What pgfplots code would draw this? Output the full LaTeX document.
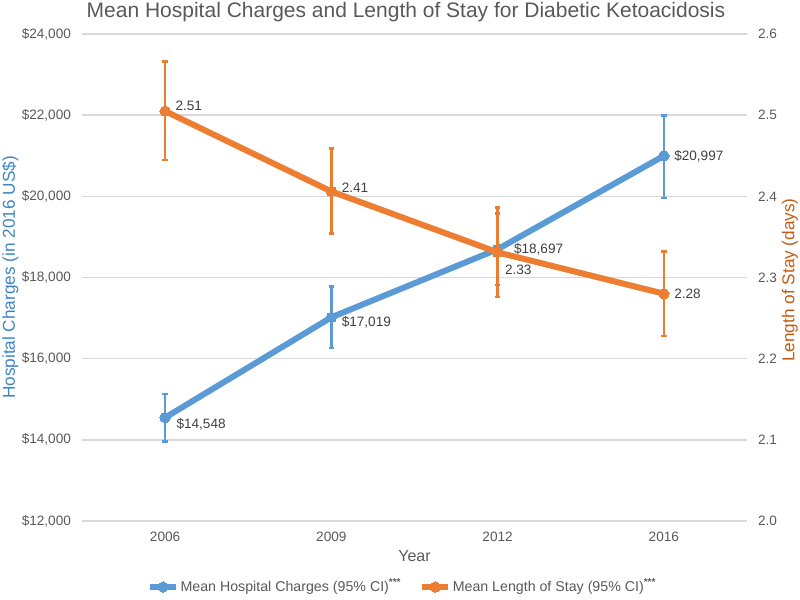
\documentclass[border=0pt]{standalone}
\usepackage{pgfplots}
\pgfplotsset{compat=1.18}
\usepackage{fontspec}
\setmainfont{Liberation Sans}
\definecolor{cblue}{HTML}{5B9BD5}
\definecolor{corange}{HTML}{ED7D31}
\definecolor{cbluelab}{HTML}{3E85C6}
\definecolor{corangelab}{HTML}{C55A11}
\definecolor{tgray}{HTML}{595959}
\definecolor{lgray}{HTML}{404040}
\definecolor{gridgray}{HTML}{D9D9D9}
\begin{document}
\begin{tikzpicture}
\useasboundingbox (0,0) rectangle (400pt,300pt);
\pgfplotsset{
  common/.style={
    at={(41pt,39.5pt)}, anchor=south west, scale only axis,
    width=332.5pt, height=243.5pt,
    xmin=-0.5, xmax=3.5,
    axis line style={draw=none},
    major tick length=0pt,
    scaled y ticks=false,
    tick label style={font=\fontsize{6.8}{8}\selectfont, text=tgray},
    label style={font=\fontsize{8}{9.5}\selectfont},
    clip=false,
  },
  nnc/.style={
    nodes near coords={#1\pgfplotspointmeta},
    point meta=explicit symbolic,
    visualization depends on={\thisrow{dx}\as\mydx},
    visualization depends on={\thisrow{dy}\as\mydy},
    nodes near coords style={anchor=west, inner sep=0pt, xshift=\mydx pt, yshift=\mydy pt,
      font=\fontsize{6.8}{8}\selectfont, text=lgray},
  },
}
\begin{axis}[common,
  ymin=12000, ymax=24000,
  ytick={12000,14000,16000,18000,20000,22000,24000},
  yticklabels={{\$12,000},{\$14,000},{\$16,000},{\$18,000},{\$20,000},{\$22,000},{\$24,000}},
  ymajorgrids, grid style={color=gridgray, line width=0.75pt},
  xtick={0,1,2,3}, xticklabels={2006,2009,2012,2016},
  xticklabel style={yshift=-2pt},
  yticklabel style={xshift=-2pt},
  xlabel={Year},
  xlabel style={at={(axis description cs:0.5,-0.072)}, anchor=center, text=tgray},
  ylabel={Hospital Charges (in 2016 US\$)},
  ylabel style={at={(axis description cs:-0.108,0.5)}, anchor=center, text=cbluelab, font=\fontsize{8.6}{10}\selectfont},
  legend style={at={(0.482,-0.1355)}, anchor=center, draw=none, fill=none,
    font=\fontsize{7.1}{8}\selectfont, text=tgray, legend columns=2,
    nodes={inner sep=0.8pt},
    /tikz/every even column/.append style={column sep=8pt}},
  legend cell align=left,
  legend image code/.code={\draw[mark repeat=2, mark phase=2, #1] plot coordinates {(0pt,0pt) (6.5pt,0pt) (13pt,0pt)};},
]
\addplot[color=cblue, line width=3pt, mark=*, mark size=2.6pt,
  mark options={fill=cblue, draw=cblue, line width=0pt},
  error bars/.cd, y dir=both, y explicit,
  error bar style={line width=1.2pt, color=cblue},
  error mark options={rotate=90, line width=1.2pt, mark size=1.4pt, color=cblue},
] table[x=x, y=y, y error plus=ep, y error minus=em] {
x y ep em
0 14548 574 594
1 17019 755 763
2 18697 882 882
3 20997 991 1041
};
\addlegendentry{Mean Hospital Charges (95\% CI)\textsuperscript{\textbf{***}}}
\addplot[draw=none, forget plot, nnc={\$}] table[x=x, y=y, meta=label] {
x y label dx dy
0 14548 14,548 5.5 -3.5
1 17019 17,019 5 -2.5
2 18697 18,697 8 0
3 20997 20,997 5 0
};
\addlegendimage{color=corange, line width=3pt, mark=*, mark size=2.6pt, mark options={fill=corange, draw=corange, line width=0pt}}
\addlegendentry{Mean Length of Stay (95\% CI)\textsuperscript{\textbf{***}}}
\end{axis}
\begin{axis}[common,
  ymin=2.0, ymax=2.6,
  ytick={2.0,2.1,2.2,2.3,2.4,2.5,2.6},
  yticklabels={2.0,2.1,2.2,2.3,2.4,2.5,2.6},
  axis x line=none,
  axis y line*=right,
  yticklabel style={xshift=2pt},
]
\addplot[color=corange, line width=3pt, mark=*, mark size=2.6pt,
  mark options={fill=corange, draw=corange, line width=0pt},
  error bars/.cd, y dir=both, y explicit,
  error bar style={line width=1.2pt, color=corange},
  error mark options={rotate=90, line width=1.2pt, mark size=1.4pt, color=corange},
] table[x=x, y=y, y error plus=ep, y error minus=em] {
x y ep em
0 2.505 0.061 0.060
1 2.406 0.053 0.052
2 2.331 0.055 0.055
3 2.280 0.052 0.052
};
\addplot[draw=none, forget plot, nnc={}] table[x=x, y=y, meta=label] {
x y label dx dy
0 2.505 2.51 5 2.5
1 2.406 2.41 5 2
2 2.331 2.33 3.5 -8.5
3 2.280 2.28 5 0
};
\end{axis}
\node[rotate=90, inner sep=0pt, font=\fontsize{8.6}{10}\selectfont, text=corangelab] at (395pt,160pt) {Length of Stay (days)};
\node[font=\fontsize{10.5}{12}\selectfont, text=tgray] at (203pt,294pt) {Mean Hospital Charges and Length of Stay for Diabetic Ketoacidosis};
\end{tikzpicture}
\end{document}
